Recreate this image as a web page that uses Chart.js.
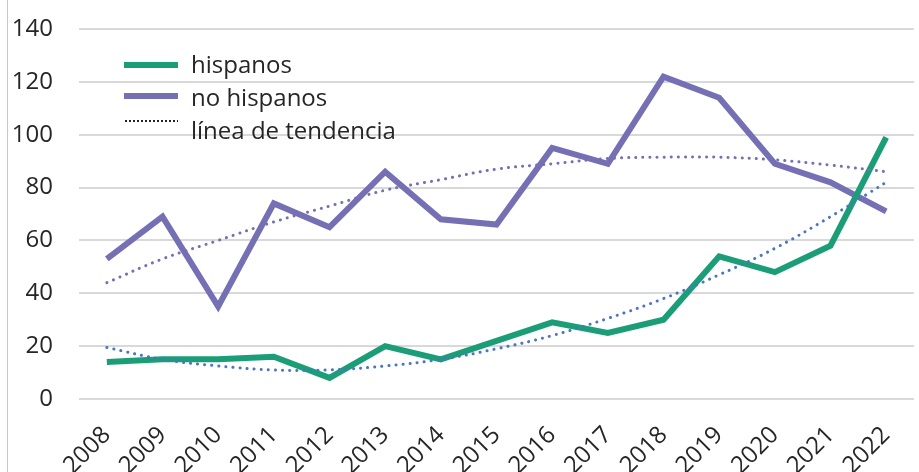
<!DOCTYPE html>
<html>
<head>
<meta charset="utf-8">
<script src="https://cdn.jsdelivr.net/npm/chart.js@4"></script>
<style>
  html, body { margin: 0; padding: 0; background: #fff; }
  #wrap { position: relative; width: 919px; height: 472px; overflow: hidden; }
  canvas { display: block; }
  #edge { position: absolute; left: 7px; top: 0; width: 1px; height: 472px; background: #c8c8c8; }
  .lg { position: absolute; font-family: "Open Sans", sans-serif; font-size: 24px; color: #262626; line-height: 32px; white-space: nowrap; }
  .sw { position: absolute; left: 124px; width: 54px; }
</style>
</head>
<body>
<div id="wrap">
  <canvas id="c" width="919" height="472"></canvas>
  <div id="edge"></div>
  <div class="sw" style="top:62px;height:6px;background:#1b9e77;"></div>
  <div class="sw" style="top:93px;height:6px;background:#7570b3;"></div>
  <div class="sw" style="top:120px;height:2px;background-image:radial-gradient(circle, #222 0.9px, transparent 1.1px);background-size:4px 2px;"></div>
  <div class="lg" style="left:191px;top:48px;">hispanos</div>
  <div class="lg" style="left:191px;top:81px;">no hispanos</div>
  <div class="lg" style="left:191px;top:114px;">línea de tendencia</div>
</div>
<script>
const years = ['2008','2009','2010','2011','2012','2013','2014','2015','2016','2017','2018','2019','2020','2021','2022'];
const hispanos = [14, 15, 15, 16, 8, 20, 15, 22, 29, 25, 30, 54, 48, 58, 99];
const noHispanos = [53, 69, 35, 74, 65, 86, 68, 66, 95, 89, 122, 114, 89, 82, 71];
const trendHispanos = [19.5, 15, 12.5, 11, 11, 12.5, 15, 19, 24, 30.5, 38, 47, 57, 69, 82];
const trendNoHispanos = [44, 53, 60, 67, 73, 79, 83, 87, 89, 91, 91.5, 91.5, 90.5, 88.5, 86];
const yTicks = [0, 20, 40, 60, 80, 100, 120, 140];

const font = { family: '"Open Sans", sans-serif', size: 24 };

new Chart(document.getElementById('c'), {
  type: 'line',
  data: {
    labels: years,
    datasets: [
      { label: 'hispanos', data: hispanos, borderColor: '#1b9e77', borderWidth: 6, pointRadius: 0, tension: 0, order: 2 },
      { label: 'no hispanos', data: noHispanos, borderColor: '#7570b3', borderWidth: 6, pointRadius: 0, tension: 0, order: 2 },
      { label: 'tend hispanos', data: trendHispanos, borderColor: '#4a74c4', borderWidth: 3, borderDash: [0.1, 7], borderCapStyle: 'round', pointRadius: 0, tension: 0.4, order: 1 },
      { label: 'tend no hispanos', data: trendNoHispanos, borderColor: '#7570b3', borderWidth: 3, borderDash: [0.1, 7], borderCapStyle: 'round', pointRadius: 0, tension: 0.4, order: 1 }
    ]
  },
  options: {
    responsive: false,
    animation: false,
    layout: { padding: { left: 0, right: 5, top: 29, bottom: 0 } },
    plugins: { legend: { display: false }, tooltip: { enabled: false } },
    scales: {
      x: {
        offset: true,
        grid: { display: false },
        border: { display: false },
        ticks: { font: font, color: '#262626', minRotation: 45, maxRotation: 45, autoSkip: false, padding: 14 },
        afterFit: (s) => { s.height = 73; s.paddingLeft = 0; s.paddingRight = 0; }
      },
      y: {
        min: 0, max: 140,
        afterBuildTicks: (s) => { s.ticks = yTicks.map(v => ({ value: v })); },
        grid: { color: '#d9d9d9', lineWidth: 2, drawTicks: false },
        border: { display: false },
        ticks: { font: font, color: '#262626', padding: 26 },
        afterFit: (s) => { s.width = 79; s.paddingTop = 10; s.paddingBottom = 10; }
      }
    }
  }
});
</script>
</body>
</html>
